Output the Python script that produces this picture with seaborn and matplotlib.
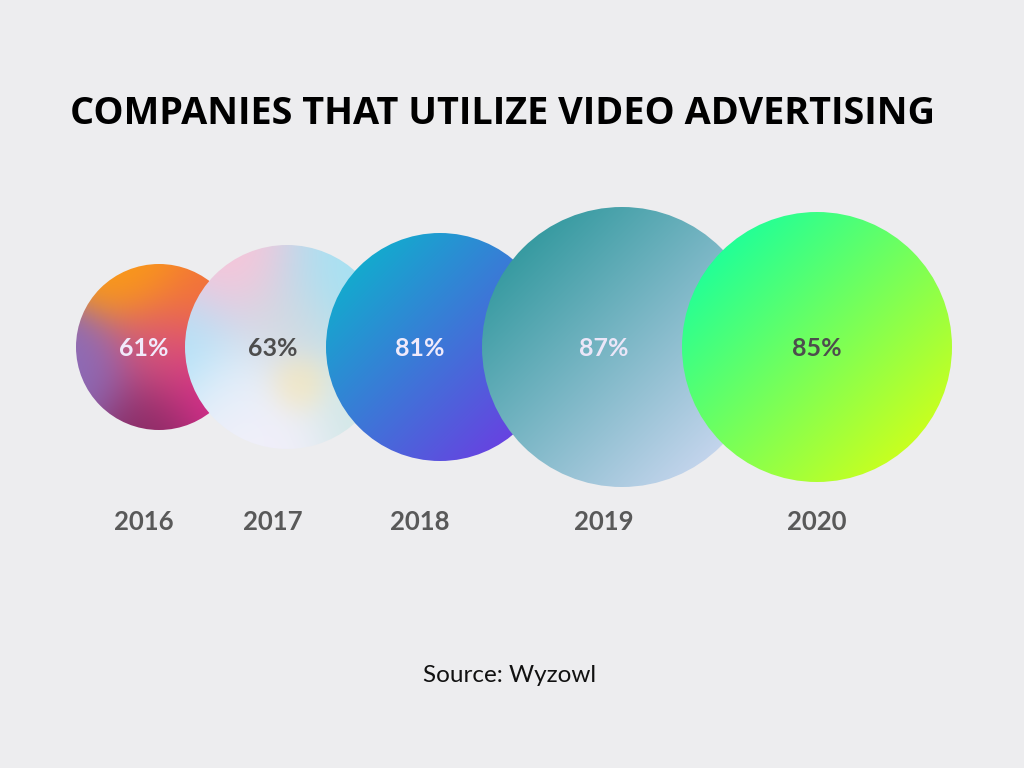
import numpy as np
import pandas as pd
import seaborn as sns
import matplotlib.pyplot as plt
from matplotlib.patches import Circle
from matplotlib.colors import to_rgb

# data
years = ["2016", "2017", "2018", "2019", "2020"]
share = [61, 63, 81, 87, 85]

df = pd.DataFrame({"year": years, "share": share})

# layout (pixels) - label x, circle offset, circle radius
label_x = [144, 273, 420, 604, 817]
circle_dx = [15, 14, 20, 18, 0]
radius = [83, 102, 114, 140, 135]
center_y = 347
pct_colors = ["#f1eafb", "#4d4d4d", "#efeafb", "#ebe6f8", "#4d4d4d"]

# gradient anchors (u, v in -1..1, v downward, spread) per circle
anchors = [
    [(-0.25, -0.95, "#fa9a18", 0.35), (0.55, -0.6, "#f3703a", 0.35), (-0.95, 0.35, "#8c6cb8", 0.35),
     (-0.1, 0.95, "#862a62", 0.35), (0.65, 0.55, "#dc2a90", 0.35), (0.1, 0.05, "#d9567c", 0.35)],
    [(-0.5, -0.75, "#fbc4d8", 0.35), (0.45, -0.65, "#a6e2f3", 0.35), (-0.9, 0.0, "#ade2f9", 0.3),
     (0.1, 0.35, "#fde6a6", 0.06), (-0.25, 0.8, "#f2effa", 0.4), (0.75, 0.55, "#d0e7e6", 0.3),
     (0.0, -0.15, "#d5dadf", 0.2), (-0.5, 0.45, "#ecf1fa", 0.2)],
    [(-0.8, -0.8, "#0fb0cd", 0), (0.8, 0.8, "#6c3ce2", 0)],
    [(-0.8, -0.8, "#2e979c", 0), (0.8, 0.8, "#ccd8f1", 0)],
    [(-0.8, -0.8, "#18ff9e", 0), (0.8, 0.8, "#d2ff18", 0)],
]

sns.set_theme(style="white", rc={"figure.facecolor": "#ededef", "axes.facecolor": "#ededef"})

fig = plt.figure(figsize=(10.24, 7.68), dpi=100)
ax = fig.add_axes([0, 0, 1, 1])
ax.set_xlim(0, 1024)
ax.set_ylim(768, 0)
ax.set_aspect("equal")
ax.axis("off")

N = 300
g = np.linspace(-1, 1, N)
U, V = np.meshgrid(g, g)


def gradient(pts):
    if len(pts) == 2:
        (u0, v0, c0, _), (u1, v1, c1, _) = pts
        d = np.array([u1 - u0, v1 - v0])
        t = ((U - u0) * d[0] + (V - v0) * d[1]) / (d @ d)
        t = np.clip(t, 0, 1)[..., None]
        return (1 - t) * np.array(to_rgb(c0)) + t * np.array(to_rgb(c1))
    w = np.stack([np.exp(-((U - u) ** 2 + (V - v) ** 2) / s) for u, v, _, s in pts])
    w = w / w.sum(axis=0)
    cols = np.array([to_rgb(c) for _, _, c, _ in pts])
    return np.tensordot(w, cols, axes=(0, 0))


for i, row in df.iterrows():
    cx = label_x[i] + circle_dx[i]
    r = radius[i]
    img = gradient(anchors[i])
    im = ax.imshow(img, extent=(cx - r, cx + r, center_y + r, center_y - r),
                   origin="upper", zorder=2 + i, interpolation="bilinear")
    clip = Circle((cx, center_y), r, transform=ax.transData)
    im.set_clip_path(clip)
    ax.text(label_x[i], center_y + 1, f"{row['share']}%", ha="center", va="center",
            fontsize=18, fontweight="bold", color=pct_colors[i], family="Lato", zorder=10)
    ax.text(label_x[i], 522, row["year"], ha="center", va="center",
            fontsize=18.5, fontweight="bold", color="#595959", family="Lato", zorder=10)

ax.set_xlim(0, 1024)
ax.set_ylim(768, 0)

ax.text(502, 114, "COMPANIES THAT UTILIZE VIDEO ADVERTISING", ha="center", va="center",
        fontsize=27.3, fontweight="bold", color="#000000", family="Open Sans")
ax.text(510, 676, "Source: Wyzowl", ha="center", va="center",
        fontsize=17.5, color="#111111", family="Lato")

fig.savefig("out.png", dpi=100, facecolor=fig.get_facecolor())
